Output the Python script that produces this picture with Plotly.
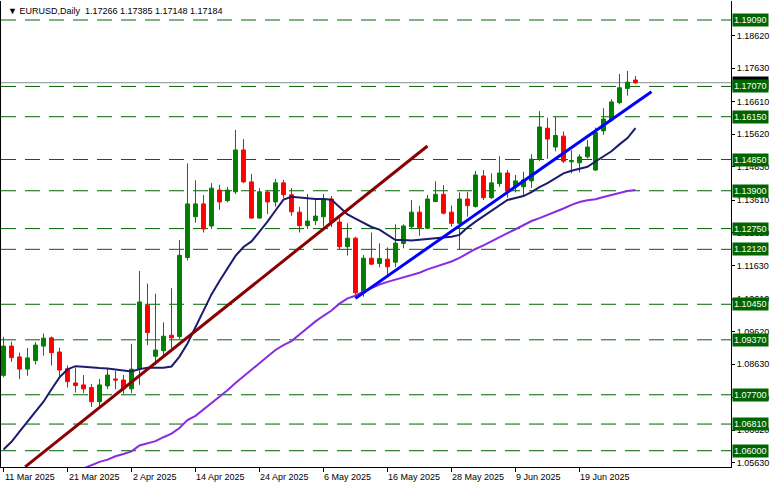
import plotly.graph_objects as go

# ---------------- data ----------------
dates = ["11 Mar","12 Mar","13 Mar","14 Mar","17 Mar","18 Mar","19 Mar","20 Mar","21 Mar","24 Mar",
         "25 Mar","26 Mar","27 Mar","28 Mar","31 Mar","1 Apr","2 Apr","3 Apr","4 Apr","7 Apr",
         "8 Apr","9 Apr","10 Apr","11 Apr","14 Apr","15 Apr","16 Apr","17 Apr","18 Apr","21 Apr",
         "22 Apr","23 Apr","24 Apr","25 Apr","28 Apr","29 Apr","30 Apr","1 May","2 May","5 May",
         "6 May","7 May","8 May","9 May","12 May","13 May","14 May","15 May","16 May","19 May",
         "20 May","21 May","22 May","23 May","26 May","27 May","28 May","29 May","30 May","2 Jun",
         "3 Jun","4 Jun","5 Jun","6 Jun","9 Jun","10 Jun","11 Jun","12 Jun","13 Jun","16 Jun",
         "17 Jun","18 Jun","19 Jun","20 Jun","23 Jun","24 Jun","25 Jun","26 Jun","27 Jun","30 Jun"]

open_ = [1.0829,1.0918,1.0885,1.0848,1.0874,1.0918,1.0943,1.0900,1.0849,1.0806,
         1.0800,1.0792,1.0749,1.0797,1.0818,1.0815,1.0788,1.0848,1.1042,1.0887,
         1.0904,1.0951,1.0947,1.1187,1.1311,1.1350,1.1283,1.1392,1.1360,1.1387,
         1.1514,1.1417,1.1307,1.1386,1.1356,1.1414,1.1378,1.1325,1.1284,1.1299,
         1.1311,1.1365,1.1295,1.1220,1.1246,1.1083,1.1185,1.1169,1.1182,1.1173,
         1.1230,1.1281,1.1325,1.1276,1.1357,1.1379,1.1325,1.1291,1.1365,1.1342,
         1.1435,1.1369,1.1412,1.1444,1.1402,1.1402,1.1420,1.1487,1.1580,1.1523,
         1.1556,1.1478,1.1475,1.1493,1.1453,1.1572,1.1605,1.1658,1.1701,1.17266]
high_ = [1.0946,1.0931,1.0898,1.0912,1.0930,1.0956,1.0947,1.0913,1.0859,1.0853,
         1.0830,1.0803,1.0818,1.0849,1.0843,1.0830,1.0925,1.1146,1.1108,1.1077,
         1.0990,1.1094,1.1240,1.1473,1.1422,1.1377,1.1413,1.1408,1.1402,1.1575,
         1.1547,1.1441,1.1398,1.1392,1.1426,1.1423,1.1398,1.1341,1.1380,1.1365,
         1.1380,1.1374,1.1309,1.1291,1.1250,1.1195,1.1263,1.1230,1.1218,1.1288,
         1.1288,1.1362,1.1344,1.1377,1.1419,1.1407,1.1345,1.1385,1.1387,1.1450,
         1.1453,1.1443,1.1495,1.1453,1.1438,1.1448,1.1501,1.1632,1.1612,1.1614,
         1.1570,1.1513,1.1501,1.1544,1.1582,1.1641,1.1668,1.1745,1.1754,1.17385]
low_ = [1.0823,1.0870,1.0818,1.0828,1.0862,1.0889,1.0859,1.0821,1.0792,1.0777,
        1.0775,1.0733,1.0729,1.0787,1.0787,1.0773,1.0775,1.0800,1.0921,1.0860,
        1.0889,1.0911,1.0940,1.1178,1.1293,1.1263,1.1274,1.1332,1.1355,1.1380,
        1.1413,1.1305,1.1305,1.1319,1.1342,1.1368,1.1314,1.1263,1.1274,1.1286,
        1.1281,1.1280,1.1210,1.1193,1.1067,1.1068,1.1164,1.1157,1.1134,1.1158,
        1.1215,1.1274,1.1253,1.1274,1.1357,1.1318,1.1281,1.1210,1.1311,1.1339,
        1.1362,1.1365,1.1402,1.1369,1.1385,1.1377,1.1399,1.1480,1.1487,1.1510,
        1.1474,1.1443,1.1446,1.1488,1.1450,1.1560,1.1600,1.1653,1.1679,1.17148]
close_ = [1.0918,1.0883,1.0848,1.0882,1.0921,1.0942,1.0898,1.0845,1.0810,1.0798,
          1.0788,1.0749,1.0800,1.0830,1.0815,1.0788,1.0848,1.1052,1.0959,1.0906,
          1.0948,1.0943,1.1194,1.1350,1.1350,1.1274,1.1398,1.1356,1.1392,1.1514,
          1.1417,1.1307,1.1387,1.1356,1.1414,1.1378,1.1326,1.1284,1.1298,1.1313,
          1.1365,1.1295,1.1220,1.1246,1.1080,1.1185,1.1167,1.1184,1.1159,1.1231,
          1.1283,1.1325,1.1278,1.1365,1.1379,1.1322,1.1291,1.1365,1.1345,1.1438,
          1.1369,1.1414,1.1444,1.1389,1.1420,1.1423,1.1486,1.1584,1.1547,1.1558,
          1.1480,1.1482,1.1493,1.1523,1.1567,1.1608,1.1660,1.1703,1.1720,1.17184]

ma_fast = [1.0604,1.0627,1.0658,1.0688,1.0716,1.0749,1.0787,1.0823,1.0847,1.0857,
           1.0855,1.0852,1.0851,1.0850,1.0847,1.0842,1.0841,1.0848,1.0852,1.0852,
           1.0852,1.0856,1.0886,1.0926,1.0975,1.1025,1.1075,1.1116,1.1156,1.1192,
           1.1219,1.1236,1.1266,1.1296,1.1330,1.1363,1.1372,1.1370,1.1366,1.1365,
           1.1365,1.1363,1.1341,1.1318,1.1305,1.1293,1.1280,1.1272,1.1256,1.1240,
           1.1240,1.1239,1.1241,1.1243,1.1245,1.1247,1.1250,1.1256,1.1278,1.1296,
           1.1313,1.1329,1.1345,1.1362,1.1368,1.1374,1.1386,1.1401,1.1413,1.1429,
           1.1443,1.1451,1.1457,1.1463,1.1479,1.1494,1.1510,1.1531,1.1550,1.1580]
ma_slow = [None]*10 + [
           1.0546,1.0557,1.0566,1.0573,1.0583,1.0590,1.0598,1.0616,1.0623,1.0629,
           1.0641,1.0652,1.0669,1.0693,1.0706,1.0725,1.0745,1.0765,1.0784,1.0806,
           1.0827,1.0848,1.0866,1.0886,1.0906,1.0921,1.0933,1.0953,1.0974,1.0993,
           1.1010,1.1026,1.1047,1.1063,1.1071,1.1084,1.1094,1.1105,1.1113,1.1120,
           1.1126,1.1133,1.1141,1.1151,1.1159,1.1166,1.1175,1.1186,1.1200,1.1213,
           1.1224,1.1237,1.1249,1.1261,1.1273,1.1286,1.1298,1.1307,1.1316,1.1326,
           1.1336,1.1347,1.1356,1.1361,1.1364,1.1371,1.1377,1.1383,1.1389,1.1392]

trend_red_idx = [2.7, 53.0]
trend_red_price = [1.0551, 1.1526]
trend_blue_idx = [44.0, 81.0]
trend_blue_price = [1.1063, 1.1691]

levels = [1.19090, 1.17070, 1.16150, 1.14850, 1.13900, 1.12750,
          1.12120, 1.10450, 1.09370, 1.07700, 1.06810, 1.06000]
price_ticks = [1.18620, 1.17630, 1.16610, 1.15620, 1.14630, 1.13610, 1.12620,
               1.11630, 1.10610, 1.09620, 1.08630, 1.07610, 1.06620, 1.05630]
date_tick_idx = [0, 8, 16, 24, 32, 40, 48, 56, 64, 72]
date_tick_text = ["11 Mar 2025", "21 Mar 2025", "2 Apr 2025", "14 Apr 2025", "24 Apr 2025",
                  "6 May 2025", "16 May 2025", "28 May 2025", "9 Jun 2025", "19 Jun 2025"]
bid = 1.17184
title_text = "EURUSD,Daily  1.17266 1.17385 1.17148 1.17184"

# ---------------- figure ----------------
idx = list(range(len(dates)))
FONT = "Liberation Sans, Arial, sans-serif"

fig = go.Figure()

shapes = []
for lv in levels:
    shapes.append(dict(type="line", xref="paper", x0=0, x1=1, yref="y", y0=lv, y1=lv,
                       line=dict(color="#006400", width=1, dash="15px,9px"), layer="below"))
shapes.append(dict(type="line", xref="paper", x0=0, x1=1, yref="y", y0=bid, y1=bid,
                   line=dict(color="#8a8f99", width=1), layer="below"))

fig.add_trace(go.Candlestick(
    x=idx, open=open_, high=high_, low=low_, close=close_,
    increasing=dict(line=dict(color="#008000", width=1), fillcolor="#008000"),
    decreasing=dict(line=dict(color="#ff0000", width=1), fillcolor="#ff0000"),
    whiskerwidth=0, showlegend=False, hoverinfo="skip"))

fig.add_trace(go.Scatter(x=idx, y=ma_slow, mode="lines",
                         line=dict(color="#8a2be2", width=2), showlegend=False, hoverinfo="skip"))
fig.add_trace(go.Scatter(x=idx, y=ma_fast, mode="lines",
                         line=dict(color="#1c1c6e", width=2), showlegend=False, hoverinfo="skip"))
fig.add_trace(go.Scatter(x=trend_red_idx, y=trend_red_price, mode="lines",
                         line=dict(color="#8b0000", width=3), showlegend=False, hoverinfo="skip"))
fig.add_trace(go.Scatter(x=trend_blue_idx, y=trend_blue_price, mode="lines",
                         line=dict(color="#0000ff", width=3), showlegend=False, hoverinfo="skip"))

annotations = []
# title
annotations.append(dict(xref="paper", yref="paper", x=0, y=1, xanchor="left", yanchor="top",
                        xshift=5, yshift=-3, showarrow=False,
                        text="\u25bc " + title_text, font=dict(family=FONT, size=9, color="black")))
# date labels
for ti, tt in zip(date_tick_idx, date_tick_text):
    annotations.append(dict(xref="x", yref="paper", x=ti, y=0, xanchor="left", yanchor="top",
                            xshift=-1, yshift=-3, showarrow=False, text=tt,
                            font=dict(family=FONT, size=9, color="black")))
# bid label (partly hidden)
annotations.append(dict(xref="paper", yref="y", x=1, y=bid, xanchor="left", yanchor="middle",
                        xshift=1, showarrow=False, text="1.17184", bgcolor="black",
                        font=dict(family=FONT, size=9, color="white"), borderpad=1))
# level labels
for lv in levels:
    annotations.append(dict(xref="paper", yref="y", x=1, y=lv, xanchor="left", yanchor="middle",
                            xshift=1, showarrow=False, text=f"{lv:.5f}", bgcolor="#006400",
                            font=dict(family=FONT, size=9, color="white"), borderpad=1))

fig.update_layout(
    width=777, height=488,
    margin=dict(l=1, r=46, t=1, b=21),
    paper_bgcolor="white", plot_bgcolor="white",
    shapes=shapes, annotations=annotations,
    xaxis=dict(range=[-0.3125, 90.94], showgrid=False, zeroline=False,
               showline=True, linecolor="black", linewidth=1,
               tickmode="array", tickvals=date_tick_idx, ticktext=[""] * len(date_tick_idx),
               ticks="outside", ticklen=4, tickcolor="black", tickwidth=1,
               rangeslider=dict(visible=False), fixedrange=True),
    yaxis=dict(range=[1.05505, 1.19667], side="right", showgrid=False, zeroline=False,
               showline=True, mirror=True, linecolor="black", linewidth=1,
               tickmode="array", tickvals=price_ticks, ticktext=[f"{v:.5f}" for v in price_ticks],
               ticks="outside", ticklen=3, tickcolor="black",
               tickfont=dict(family=FONT, size=9, color="black"), fixedrange=True),
    hovermode=False,
)

fig.write_html("out.html", config={"displayModeBar": False, "staticPlot": True},
               post_script="document.body.style.margin='0';document.body.style.overflow='hidden';")
